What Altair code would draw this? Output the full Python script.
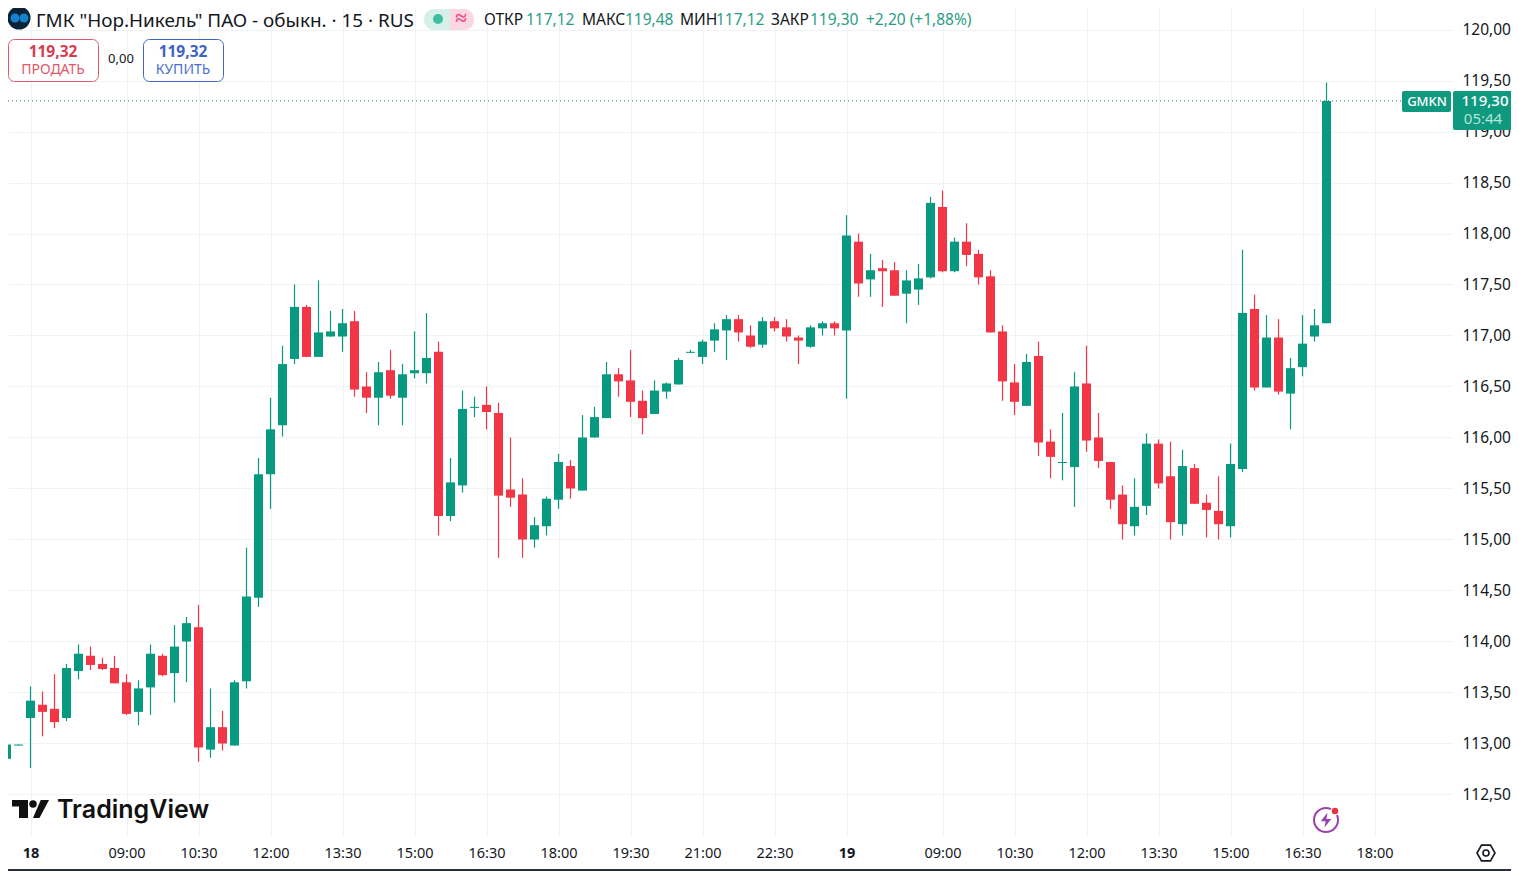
import altair as alt
import pandas as pd

first_index = -2
opens = [112.85,112.98,113.25,113.38,113.34,113.25,113.71,113.86,113.78,113.74,113.60,113.31,113.55,113.86,113.69,114.00,114.14,112.94,113.16,112.98,113.61,114.43,115.64,116.12,116.77,117.28,116.79,116.99,116.99,117.14,116.50,116.39,116.66,116.39,116.63,116.63,116.84,115.23,115.53,116.29,116.32,116.24,115.49,115.44,115.00,115.13,115.39,115.72,115.48,116.00,116.19,116.62,116.56,116.36,116.23,116.45,116.52,116.83,116.79,116.95,117.05,117.16,117.00,116.91,117.14,117.08,116.98,116.89,117.07,117.12,117.05,117.92,117.55,117.66,117.64,117.41,117.45,117.57,118.26,117.63,117.92,117.80,117.58,117.04,116.54,116.31,116.80,115.96,115.75,115.71,116.53,116.00,115.76,115.44,115.13,115.33,115.94,115.62,115.15,115.70,115.36,115.28,115.13,115.69,117.26,116.49,116.98,116.43,116.69,116.99,117.12]
highs = [113.02,112.99,113.56,113.51,113.68,113.78,113.97,113.95,113.84,113.86,113.68,113.62,113.97,113.88,114.16,114.24,114.36,113.54,113.32,113.62,114.92,115.80,116.39,116.90,117.50,117.30,117.54,117.24,117.26,117.24,116.64,116.74,116.86,116.72,117.04,117.22,116.94,115.80,116.46,116.40,116.50,116.34,116.00,115.60,115.22,115.42,115.84,115.78,116.22,116.30,116.74,116.68,116.86,116.46,116.56,116.54,116.78,116.86,116.96,117.12,117.20,117.20,117.10,117.18,117.18,117.16,117.00,117.10,117.14,117.14,118.18,118.00,117.80,117.74,117.72,117.64,117.70,118.36,118.42,117.96,118.10,117.84,117.64,117.10,116.72,116.82,116.94,116.08,116.24,116.64,116.90,116.24,115.76,115.53,115.60,116.04,115.98,115.96,115.88,115.74,115.44,115.62,115.94,117.84,117.40,117.20,117.16,116.78,117.20,117.26,119.48]
lows = [112.85,112.98,112.76,113.07,113.15,113.22,113.63,113.72,113.72,113.59,113.28,113.18,113.28,113.66,113.40,113.60,112.82,112.86,112.93,112.98,113.54,114.34,115.30,116.01,116.72,116.79,116.79,116.99,116.84,116.40,116.24,116.12,116.38,116.12,116.58,116.53,115.04,115.18,115.46,116.20,116.08,114.82,115.32,114.82,114.92,115.04,115.30,115.40,115.48,116.00,116.19,116.40,116.20,116.03,116.23,116.38,116.52,116.83,116.72,116.84,116.76,116.94,116.88,116.88,117.04,116.94,116.72,116.88,117.00,117.00,116.38,117.38,117.38,117.28,117.39,117.12,117.30,117.56,117.62,117.62,117.68,117.50,117.03,116.36,116.22,116.31,115.82,115.60,115.58,115.32,115.86,115.70,115.30,115.00,115.04,115.24,115.50,115.00,115.04,115.35,115.02,115.00,115.02,115.66,116.46,116.49,116.42,116.08,116.60,116.94,117.12]
closes = [112.99,112.99,113.42,113.31,113.21,113.74,113.88,113.77,113.73,113.59,113.29,113.54,113.88,113.67,113.95,114.18,112.96,113.16,113.00,113.60,114.44,115.64,116.08,116.72,117.28,116.79,117.03,117.04,117.12,116.47,116.39,116.64,116.41,116.62,116.66,116.78,115.23,115.56,116.28,116.30,116.25,115.43,115.41,115.00,115.14,115.40,115.76,115.50,116.00,116.20,116.62,116.55,116.35,116.19,116.46,116.53,116.76,116.84,116.94,117.06,117.16,117.03,116.89,117.14,117.07,116.99,116.95,117.08,117.12,117.07,117.98,117.51,117.64,117.63,117.39,117.54,117.56,118.30,117.63,117.92,117.79,117.57,117.03,116.55,116.35,116.74,115.95,115.81,115.76,116.50,115.97,115.77,115.39,115.15,115.32,115.94,115.55,115.17,115.72,115.35,115.29,115.15,115.74,117.22,116.49,116.98,116.45,116.68,116.92,117.10,119.30]

price_ticks = [112.5,113.0,113.5,114.0,114.5,115.0,115.5,116.0,116.5,117.0,117.5,118.0,118.5,119.0,119.5,120.0]
time_ticks = [0,8,14,20,26,32,38,44,50,56,62,68,76,82,88,94,100,106,112]
time_labels = ["18","09:00","10:30","12:00","13:30","15:00","16:30","18:00","19:30","21:00","22:30","19","09:00","10:30","12:00","13:30","15:00","16:30","18:00"]
last_price = 119.30

GREEN = "#089981"
RED = "#f23645"
INK = "#131722"
GRID = "#f0f3f4"
FONT = "Noto Sans"

df = pd.DataFrame({"i": [first_index + k for k in range(len(opens))],
                   "o": opens, "h": highs, "l": lows, "c": closes})
df["up"] = df["c"] >= df["o"]

x_scale = alt.Scale(domain=[-1.875, 118.54], nice=False, zero=False, padding=0)
y_scale = alt.Scale(domain=[112.0931, 120.2108], nice=False, zero=False)
color = alt.Color("up:N", scale=alt.Scale(domain=[True, False], range=[GREEN, RED]), legend=None)

x_label_expr = "[" + ",".join(f"'{t}'" for t in time_labels) + "][indexof([" + ",".join(map(str, time_ticks)) + "],datum.value)]"

x_axis = alt.Axis(values=time_ticks, labelExpr=x_label_expr, title=None, grid=True, gridColor=GRID,
                  ticks=False, domain=False, labelFont=FONT, labelFontSize=14.5, labelColor=INK,
                  labelPadding=10, labelOverlap=False, labelFlush=False, labelBound=False,
                  labelFontWeight={"condition": {"test": "datum.value==0||datum.value==68", "value": "bold"}, "value": "normal"})
y_axis = alt.Axis(values=price_ticks, labelExpr="replace(format(datum.value,'.2f'),'.',',')", title=None, orient="right",
                  grid=True, gridColor=GRID, ticks=False, domain=False, labelFont=FONT, labelFontSize=15.5,
                  labelColor=INK, labelPadding=9, labelOverlap=False, labelFlush=False, labelBound=False)

wicks = alt.Chart(df).mark_rule(strokeWidth=1.2).encode(
    x=alt.X("i:Q", scale=x_scale, axis=x_axis),
    y=alt.Y("l:Q", scale=y_scale, axis=y_axis),
    y2="h:Q", color=color)
bodies = alt.Chart(df).mark_bar(size=9).encode(
    x=alt.X("i:Q", scale=x_scale, axis=x_axis),
    y=alt.Y("o:Q", scale=y_scale, axis=y_axis),
    y2="c:Q", color=color)
price_line = alt.Chart(pd.DataFrame({"p": [last_price]})).mark_rule(strokeDash=[1, 3], color="#1f6f60", strokeWidth=1).encode(
    y=alt.Y("p:Q", scale=y_scale, axis=y_axis), x=alt.value(0), x2=alt.value(1394))

blank = alt.Data(values=[{"a": 1}])
def sx(v): return v - 8

def text(s, x, y, size=15, col=INK, weight="normal", align="left", font=FONT, **kw):
    return alt.Chart(blank).mark_text(text=s, fontSize=size, color=col, fontWeight=weight, align=align,
                                      baseline="middle", font=font, **kw).encode(x=alt.value(sx(x)), y=alt.value(sx(y)))

def rect(x0, x1, y0, y1, **kw):
    return alt.Chart(blank).mark_rect(**kw).encode(x=alt.value(sx(x0)), x2=alt.value(sx(x1)), y=alt.value(sx(y0)), y2=alt.value(sx(y1)))

def dot(x, y, d, col, **kw):
    return alt.Chart(blank).mark_point(shape=kw.pop("shape", "circle"), size=d * d, filled=kw.pop("filled", True),
                                       color=col, opacity=1, **kw).encode(x=alt.value(sx(x)), y=alt.value(sx(y)))

G2 = "#2a9d84"
overlay = [
    dot(19, 18, 23, "#0c2238"), dot(15, 18, 9, "#1283cc"), dot(24, 18, 9, "#1283cc"),
    text('ГМК "Нор.Никель" ПАО - обыкн. · 15 · RUS', 36, 20.5, size=18.9),
    rect(424, 450, 9, 30, fill="#d6f0e9", cornerRadiusTopLeft=10, cornerRadiusBottomLeft=10),
    rect(450, 474, 9, 30, fill="#fbd7e4", cornerRadiusTopRight=10, cornerRadiusBottomRight=10),
    dot(438, 19, 10, "#3dbf9f"),
    text("≈", 461, 19, size=21, col="#ec4f87", weight="bold", align="center"),
    text("ОТКР", 484, 19.5, size=15.5), text("117,12", 526, 19.5, size=15.5, col=G2),
    text("МАКС", 582, 19.5, size=15.5), text("119,48", 625, 19.5, size=15.5, col=G2),
    text("МИН", 680, 19.5, size=15.5), text("117,12", 716, 19.5, size=15.5, col=G2),
    text("ЗАКР", 771, 19.5, size=15.5), text("119,30", 810, 19.5, size=15.5, col=G2),
    text("+2,20 (+1,88%)", 866, 19.5, size=15.5, col=G2),
    rect(8.5, 98.5, 39.5, 81.5, fill="white", stroke="#e0596a", strokeWidth=1, cornerRadius=6),
    text("119,32", 53, 51.5, size=15.5, col="#d63c52", weight="bold", align="center"),
    text("ПРОДАТЬ", 53, 69.5, size=14, col="#e0596a", align="center"),
    text("0,00", 121, 59, size=13, align="center"),
    rect(143.5, 223.5, 39.5, 81.5, fill="white", stroke="#3f63c4", strokeWidth=1, cornerRadius=6),
    text("119,32", 183, 51.5, size=15.5, col="#3f63c4", weight="bold", align="center"),
    text("КУПИТЬ", 183, 69.5, size=14, col="#4a6fd0", align="center"),
    rect(1402, 1451, 91, 112, fill="#0f9a7f", cornerRadius=2),
    text("GMKN", 1427, 101.5, size=13, col="white", align="center", weight=500),
    rect(1453, 1515, 91, 130, fill="#0f9a7f", cornerRadius=2),
    text("119,30", 1485, 101, size=15, col="white", align="center", weight=500),
    text("05:44", 1483, 119, size=15, col="#b8e3d8", align="center"),
    rect(12, 28, 800, 806.5, fill="#111111"), rect(19, 28, 800, 818, fill="#111111"),
    dot(33, 804, 7.5, "#111111"),
    dot(41, 809, 18, "#111111", shape="M-0.03,-1 L0.89,-1 L-0.17,1 L-0.89,1 Z"),
    text("TradingView", 57, 810, size=25, col="#111111", weight=600, font="Inter"),
    dot(1326, 820, 24, "#9c3fb0", filled=False, strokeWidth=2),
    dot(1326, 820, 15, "#9c3fb0", shape="M0.2,-1 L-0.7,0.15 L-0.05,0.15 L-0.2,1 L0.7,-0.15 L0.05,-0.15 Z"),
    dot(1335, 811, 9, "white"), dot(1335, 811, 6.5, "#e5353f"),
    dot(1486, 853, 18, INK, shape="M-1,0 L-0.5,-0.87 L0.5,-0.87 L1,0 L0.5,0.87 L-0.5,0.87 Z", filled=False, strokeWidth=1.6),
    dot(1486, 853, 6, INK, filled=False, strokeWidth=1.6),
    rect(0, 1519, 869, 871, fill="#2a2e39"),
]

chart = alt.layer(wicks, bodies, price_line, *overlay).properties(
    width=1445, height=828, background="white",
    padding={"left": 0, "top": 0, "right": 58, "bottom": 35},
    autosize=alt.AutoSizeParams(type="none", contains="content"),
).configure_view(stroke=None)

chart.save("out.html", embed_options={"renderer": "svg", "actions": False})
